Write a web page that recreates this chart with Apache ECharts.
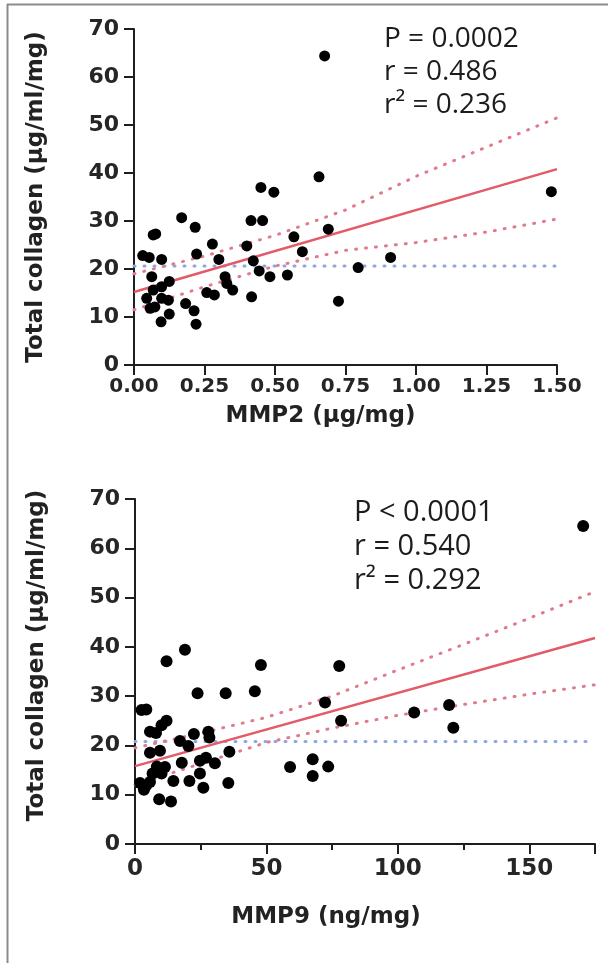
<!DOCTYPE html>
<html>
<head>
<meta charset="utf-8">
<script src="https://cdn.jsdelivr.net/npm/echarts@6/dist/echarts.min.js"></script>
<style>
html,body{margin:0;padding:0;background:#fff;}
#chart{width:608px;height:963px;}
</style>
</head>
<body>
<div id="chart"></div>
<script>
// ---------- Data ----------
// Panel A: MMP2 vs total collagen
const mmp2X = [0.45,0.496,0.656,0.676,0.169,0.217,0.415,0.456,0.068,0.077,0.689,0.278,0.567,0.40,0.031,0.054,0.098,0.222,0.301,0.597,0.423,0.795,0.444,0.063,0.323,0.482,0.544,0.125,0.329,0.068,0.098,0.258,0.285,0.35,0.417,0.045,0.074,0.098,0.122,0.183,0.213,0.125,0.096,0.22,0.725,0.057,1.48,0.91];
const mmp2Y = [37.0,36.0,39.2,64.4,30.7,28.7,30.1,30.1,27.1,27.3,28.3,25.2,26.7,24.8,22.8,22.4,22.0,23.1,22.0,23.6,21.7,20.3,19.6,18.4,18.4,18.4,18.75,17.4,17.0,15.6,16.3,15.1,14.6,15.6,14.2,13.9,12.1,13.9,13.5,12.8,11.3,10.6,9.0,8.5,13.3,11.8,36.1,22.4];
const fit2X = [0, 1.5];
const fit2Y = [15.2, 40.8];
const band2X = [0, 0.25, 0.5, 0.75, 1.0, 1.25, 1.5];
const band2Upper = [19.0, 22.7, 27.0, 32.3, 39.3, 45.4, 51.5];
const band2Lower = [11.5, 16.3, 20.6, 23.9, 25.5, 27.7, 30.4];
const ref2X = [0, 1.5];
const ref2Y = [20.6, 20.6];
const stats2 = ['P = 0.0002', 'r = 0.486', 'r\u00B2 = 0.236'];

// Panel B: MMP9 vs total collagen
const mmp9X = [12.0,19.0,47.9,23.8,34.5,45.6,2.5,4.3,12.0,10.1,5.7,8.0,22.4,27.9,28.3,17.1,20.3,35.9,5.7,9.5,27.0,24.7,17.8,30.4,8.3,11.4,6.7,10.1,24.7,59.0,67.6,67.6,1.9,4.2,5.7,3.4,14.6,20.7,35.5,26.0,9.2,13.7,170.5,77.7,72.3,78.4,106.2,119.5,121.1,73.5];
const mmp9Y = [37.1,39.4,36.3,30.6,30.6,31.0,27.2,27.3,25.0,24.1,22.8,22.5,22.3,22.8,21.6,20.9,19.9,18.7,18.5,18.9,17.5,16.9,16.5,16.4,15.7,15.6,14.3,14.3,14.3,15.6,17.2,13.8,12.4,11.8,12.6,11.0,12.8,12.8,12.4,11.4,9.1,8.6,64.5,36.1,28.7,25.0,26.7,28.2,23.6,15.7];
const fit9X = [0, 175];
const fit9Y = [15.8, 41.8];
const band9X = [0, 25, 50, 75, 100, 125, 150, 175];
const band9Upper = [19.5, 22.5, 25.7, 30.0, 35.3, 40.5, 45.8, 51.2];
const band9Lower = [12.0, 16.3, 20.6, 23.5, 26.1, 28.3, 30.4, 32.3];
const ref9X = [0, 175];
const ref9Y = [20.8, 20.8];
const stats9 = ['P < 0.0001', 'r = 0.540', 'r\u00B2 = 0.292'];

// Axis texts
const yTitle = 'Total collagen (\u00B5g/ml/mg)';
const x2Title = 'MMP2 (\u00B5g/mg)';
const x9Title = 'MMP9 (ng/mg)';
const x9MajorTicks = [0, 50, 100, 150, 175];

// ---------- Helpers ----------
const zip = (xs, ys) => xs.map((x, i) => [x, ys[i]]);
const TICK_FONT = 'DejaVu Sans';
const AX = '#1e1e1e';
const RED = '#e35a68';
const RED_DOT = '#e07a8c';
const BLUE_DOT = '#8ea6e0';

function yAxis(gridIndex, padLeft) {
  return {
    type: 'value', gridIndex, min: 0, max: 70, interval: 10,
    name: yTitle, nameLocation: 'middle', nameGap: 86,
    nameTextStyle: { fontFamily: TICK_FONT, fontWeight: 'bold', fontSize: 23, color: '#222', padding: [0, 0, 0, padLeft] },
    axisLine: { show: true, lineStyle: { color: AX, width: 2 } },
    axisTick: { show: true, length: 10, lineStyle: { color: AX, width: 2 } },
    axisLabel: { fontFamily: TICK_FONT, fontWeight: 'bold', fontSize: 22, color: '#262626', margin: 15 },
    splitLine: { show: false }
  };
}

const dotted = (color) => ({ color, width: 3, type: [1, 9], cap: 'round' });

function lineSeries(xi, yi, data, style, z) {
  return { type: 'line', xAxisIndex: xi, yAxisIndex: yi, data, showSymbol: false, symbol: 'none', lineStyle: style, z: z, silent: true, animation: false };
}

const chart = echarts.init(document.getElementById('chart'), null, { renderer: 'canvas' });

const option = {
  backgroundColor: '#ffffff',
  animation: false,
  grid: [
    { left: 134, top: 29, width: 423, height: 336 },
    { left: 135, top: 499, width: 460, height: 345 }
  ],
  xAxis: [
    {
      type: 'value', gridIndex: 0, min: 0, max: 1.5, interval: 0.25,
      name: x2Title, nameLocation: 'middle', nameGap: 40,
      nameTextStyle: { fontFamily: TICK_FONT, fontWeight: 'bold', fontSize: 23, color: '#222', padding: [0, 50, 0, 0] },
      axisLine: { show: true, onZero: false, lineStyle: { color: AX, width: 2 } },
      axisTick: { show: true, length: 10, lineStyle: { color: AX, width: 2 } },
      axisLabel: { fontFamily: TICK_FONT, fontWeight: 'bold', fontSize: 20, color: '#262626', margin: 12,
        formatter: v => v.toFixed(2) },
      splitLine: { show: false }
    },
    {
      type: 'value', gridIndex: 1, min: 0, max: 175, interval: 25,
      name: x9Title, nameLocation: 'middle', nameGap: 62,
      nameTextStyle: { fontFamily: TICK_FONT, fontWeight: 'bold', fontSize: 23, color: '#222', padding: [0, 78, 0, 0] },
      axisLine: { show: true, onZero: false, lineStyle: { color: AX, width: 2 } },
      axisTick: { show: true, length: 6, lineStyle: { color: AX, width: 2 } },
      axisLabel: { fontFamily: TICK_FONT, fontWeight: 'bold', fontSize: 23, color: '#262626', margin: 14,
        showMaxLabel: false,
        formatter: v => (v % 50 === 0 ? String(v) : '') },
      splitLine: { show: false }
    },
    {
      type: 'value', gridIndex: 1, min: 0, max: 175, position: 'bottom',
      axisLine: { show: false },
      axisTick: { show: true, length: 10, customValues: x9MajorTicks, lineStyle: { color: AX, width: 2 } },
      axisLabel: { show: false },
      splitLine: { show: false }
    }
  ],
  yAxis: [ yAxis(0, 0), yAxis(1, 32) ],
  series: [
    lineSeries(0, 0, zip(ref2X, ref2Y), dotted(BLUE_DOT), 2),
    lineSeries(0, 0, zip(band2X, band2Upper), dotted(RED_DOT), 3),
    lineSeries(0, 0, zip(band2X, band2Lower), dotted(RED_DOT), 3),
    lineSeries(0, 0, zip(fit2X, fit2Y), { color: RED, width: 2.5 }, 4),
    { type: 'scatter', xAxisIndex: 0, yAxisIndex: 0, data: zip(mmp2X, mmp2Y), symbol: 'circle', symbolSize: 11,
      itemStyle: { color: '#000', opacity: 1 }, z: 5, silent: true },

    lineSeries(1, 1, zip(ref9X, ref9Y), dotted(BLUE_DOT), 2),
    lineSeries(1, 1, zip(band9X, band9Upper), dotted(RED_DOT), 3),
    lineSeries(1, 1, zip(band9X, band9Lower), dotted(RED_DOT), 3),
    lineSeries(1, 1, zip(fit9X, fit9Y), { color: RED, width: 2.5 }, 4),
    { type: 'scatter', xAxisIndex: 1, yAxisIndex: 1, data: zip(mmp9X, mmp9Y), symbol: 'circle', symbolSize: 12,
      itemStyle: { color: '#000', opacity: 1 }, z: 5, silent: true }
  ],
  graphic: [
    { type: 'line', shape: { x1: 7.5, y1: 4, x2: 7.5, y2: 963 }, style: { stroke: '#8c8c8c', lineWidth: 2 }, silent: true },
    { type: 'line', shape: { x1: 7, y1: 4.5, x2: 608, y2: 4.5 }, style: { stroke: '#8c8c8c', lineWidth: 2 }, silent: true },
    ...stats2.map((t, i) => ({ type: 'text', x: 384, y: 39 + i * 33, silent: true,
      style: { text: t, fontFamily: "'Open Sans', sans-serif", fontSize: 28, fill: '#1c1c1c', textVerticalAlign: 'middle', verticalAlign: 'middle' } })),
    ...stats9.map((t, i) => ({ type: 'text', x: 354, y: 513 + i * 34, silent: true,
      style: { text: t, fontFamily: "'Open Sans', sans-serif", fontSize: 29, fill: '#1c1c1c', textVerticalAlign: 'middle', verticalAlign: 'middle' } }))
  ]
};
chart.setOption(option);
</script>
</body>
</html>
